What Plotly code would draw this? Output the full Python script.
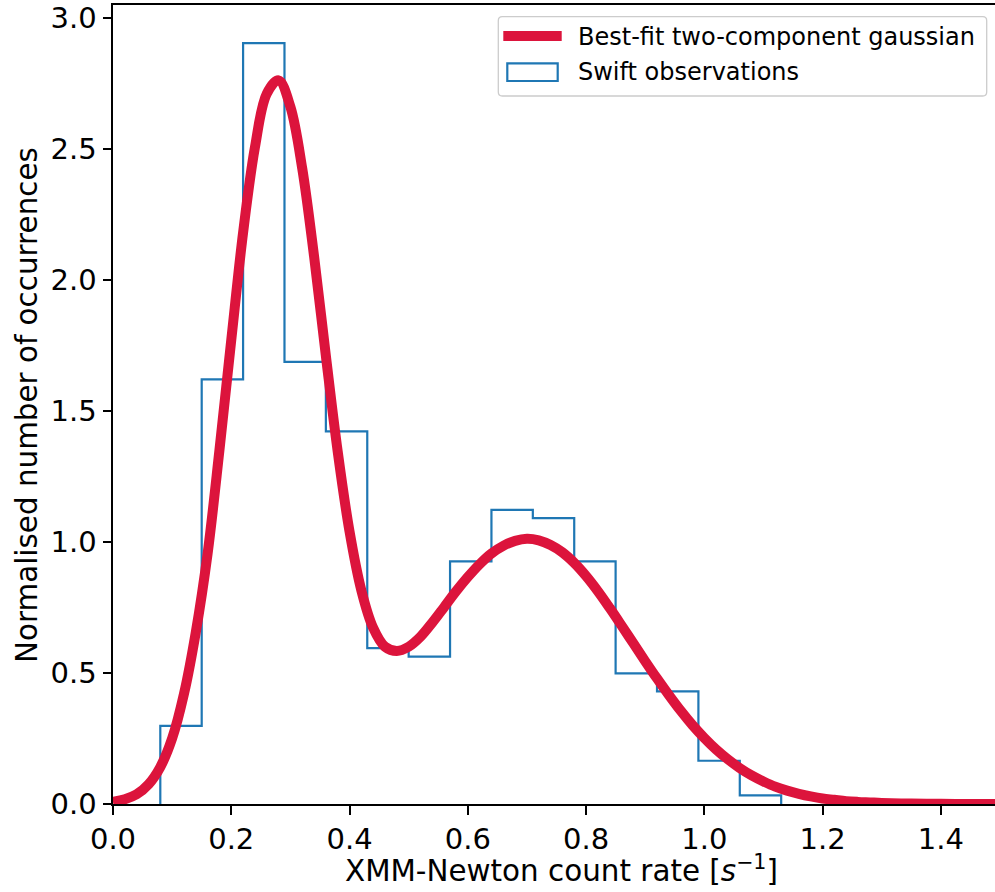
import plotly.graph_objects as go

# ---------------- data ----------------
bin_edges = [0.08, 0.15, 0.22, 0.29, 0.36, 0.43, 0.50, 0.57, 0.64,
             0.71, 0.78, 0.85, 0.92, 0.99, 1.06, 1.13]
bin_heights = [0.298, 1.620, 2.903, 1.687, 1.422, 0.595, 0.562, 0.926,
               1.122, 1.091, 0.926, 0.498, 0.430, 0.165, 0.033]

# best-fit curve, values
curve_x = [0.00, 0.02, 0.04, 0.06, 0.08, 0.10, 0.12, 0.14, 0.16, 0.18,
           0.20, 0.22, 0.24, 0.26, 0.28, 0.30, 0.32, 0.34, 0.36, 0.38,
           0.40, 0.42, 0.44, 0.46, 0.48, 0.50, 0.52, 0.54, 0.56, 0.58,
           0.60, 0.62, 0.64, 0.66, 0.68, 0.70, 0.72, 0.74, 0.76, 0.78,
           0.80, 0.82, 0.84, 0.86, 0.88, 0.90, 0.92, 0.94, 0.96, 0.98,
           1.00, 1.02, 1.04, 1.06, 1.08, 1.10, 1.12, 1.14, 1.16, 1.18,
           1.20, 1.22, 1.24, 1.26, 1.28, 1.30, 1.35, 1.40, 1.45, 1.50]
curve_y = [0.008, 0.018, 0.037, 0.075, 0.141, 0.250, 0.420, 0.655, 0.955, 1.350,
           1.770, 2.180, 2.505, 2.710, 2.761, 2.660, 2.425, 2.090, 1.710, 1.345,
           1.040, 0.815, 0.672, 0.600, 0.584, 0.600, 0.638, 0.692, 0.751, 0.811,
           0.866, 0.915, 0.956, 0.985, 1.004, 1.012, 1.006, 0.988, 0.960, 0.920,
           0.870, 0.812, 0.748, 0.681, 0.613, 0.545, 0.479, 0.416, 0.356, 0.301,
           0.252, 0.208, 0.170, 0.137, 0.109, 0.086, 0.066, 0.051, 0.039, 0.029,
           0.021, 0.016, 0.011, 0.008, 0.006, 0.004, 0.0015, 0.0005, 0.0002, 0.0001]

x_ticks = [0.0, 0.2, 0.4, 0.6, 0.8, 1.0, 1.2, 1.4]
y_ticks = [0.0, 0.5, 1.0, 1.5, 2.0, 2.5, 3.0]

curve_name = "Best-fit two-component gaussian"
hist_name = "Swift observations"
x_title = "XMM-Newton count rate [<i>s</i><sup>\u22121</sup>]"
y_title = "Normalised number of occurrences"

RED = "#DC143C"
BLUE = "#1f77b4"
FONT = "DejaVu Sans"

# step outline (matplotlib histtype='step')
step_x = [bin_edges[0]] + bin_edges[:-1] + [bin_edges[-1], bin_edges[-1]]
step_y = [0] + bin_heights + [bin_heights[-1], 0]

fig = go.Figure()
fig.add_trace(go.Scatter(x=step_x, y=step_y, mode="lines", line_shape="hv",
                         line=dict(color=BLUE, width=2.2), showlegend=False,
                         hoverinfo="skip"))
fig.add_trace(go.Scatter(x=curve_x, y=curve_y, mode="lines", line_shape="spline",
                         line=dict(color=RED, width=10), showlegend=False))

W, H = 995, 892
L, R, T, B = 113, 0, 5, 88
pw, ph = W - L - R, H - T - B


def px(xp):
    return (xp - L) / pw


def py(yp):
    return (H - B - yp) / ph


# manual legend (matplotlib style)
x0, x1, y0, y1 = px(498.3), px(986.7), py(96), py(16.7)
rx, ry = 4 / pw, 4 / ph
path = (f"M{x0+rx},{y0} L{x1-rx},{y0} Q{x1},{y0} {x1},{y0+ry} "
        f"L{x1},{y1-ry} Q{x1},{y1} {x1-rx},{y1} L{x0+rx},{y1} "
        f"Q{x0},{y1} {x0},{y1-ry} L{x0},{y0+ry} Q{x0},{y0} {x0+rx},{y0} Z")
shapes = [
    dict(type="path", xref="paper", yref="paper", path=path,
         line=dict(color="#cccccc", width=1.3), fillcolor="rgba(255,255,255,0.8)"),
    dict(type="line", xref="paper", yref="paper", x0=px(503.3), x1=px(561.7),
         y0=py(36), y1=py(36), line=dict(color=RED, width=10)),
    dict(type="rect", xref="paper", yref="paper", x0=px(507.3), x1=px(557.7),
         y0=py(81), y1=py(63.3), line=dict(color=BLUE, width=2.2),
         fillcolor="rgba(0,0,0,0)"),
]
annotations = [
    dict(xref="paper", yref="paper", x=px(575.5), y=py(37), text=curve_name,
         showarrow=False, xanchor="left", yanchor="middle",
         font=dict(family=FONT, size=24, color="black")),
    dict(xref="paper", yref="paper", x=px(575.5), y=py(72), text=hist_name,
         showarrow=False, xanchor="left", yanchor="middle",
         font=dict(family=FONT, size=24, color="black")),
    # axis titles
    dict(xref="paper", yref="paper", x=px(561), y=py(869), text=x_title,
         showarrow=False, xanchor="center", yanchor="middle",
         font=dict(family=FONT, size=29.4, color="black")),
    dict(xref="paper", yref="paper", x=px(27), y=py(405), text=y_title,
         showarrow=False, xanchor="center", yanchor="middle", textangle=-90,
         font=dict(family=FONT, size=29.4, color="black")),
]

axis_common = dict(showgrid=False, zeroline=False, showline=True, linecolor="black",
                   linewidth=2, ticks="outside", ticklen=8.5, tickwidth=2,
                   tickcolor="black", tickfont=dict(family=FONT, size=29, color="black"))

fig.update_layout(
    width=W, height=H,
    margin=dict(l=L, r=R, t=T, b=B),
    paper_bgcolor="white", plot_bgcolor="white",
    font=dict(family=FONT, color="black"),
    xaxis=dict(range=[0, 1.4916], tickvals=x_ticks,
               ticktext=[f"{v:.1f}" for v in x_ticks], mirror=True,
               **axis_common),
    yaxis=dict(range=[0, 3.0484], tickvals=y_ticks,
               ticktext=[f"{v:.1f}" for v in y_ticks], mirror=False,
               **axis_common),
    shapes=shapes, annotations=annotations,
    showlegend=False,
)

fig.write_html("out.html")
